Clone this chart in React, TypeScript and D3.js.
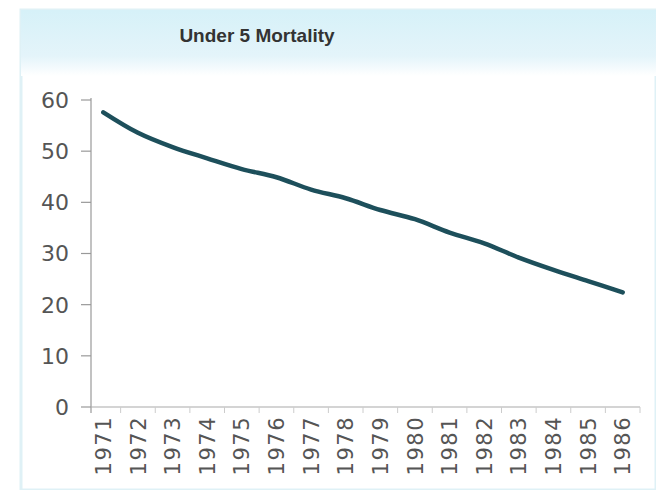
import React from "react";
import * as d3 from "d3";

const years = ["1971","1972","1973","1974","1975","1976","1977","1978","1979","1980","1981","1982","1983","1984","1985","1986"];
const mortality = [57.6, 53.6, 50.8, 48.6, 46.5, 44.9, 42.5, 40.8, 38.5, 36.7, 34.1, 32.0, 29.2, 26.8, 24.6, 22.4];
const yTicks = [0, 10, 20, 30, 40, 50, 60];
const title = "Under 5 Mortality";

const W = 656;
const H = 490;

export default function App() {
  const x = d3.scaleBand<string>().domain(years).range([86, 640]);
  const y = d3.scaleLinear().domain([0, 60]).range([407, 100]);
  const axisX = 91;
  const xc = (d: string) => (x(d) as number) + x.bandwidth() / 2;
  const line = d3
    .line<number>()
    .x((_, i) => xc(years[i]))
    .y((v) => y(v))
    .curve(d3.curveCatmullRom.alpha(0.5));
  const boundaries = years.map((d) => x(d) as number).concat([640]).filter((b) => b > axisX + 2);

  return (
    <svg width={W} height={H} style={{ position: "absolute", left: 0, top: 0, background: "#fff" }}>
      <defs>
        <linearGradient id="tb" x1="0" y1="0" x2="0" y2="1">
          <stop offset="0" stopColor="#d6f1f8" />
          <stop offset="0.7" stopColor="#e4f4fa" />
          <stop offset="1" stopColor="#ffffff" />
        </linearGradient>
      </defs>
      <rect x={21} y={10} width={W - 21} height={H - 10} fill="#fff" stroke="#dff1f6" strokeWidth={3} />
      <rect x={21} y={10} width={W - 21} height={66} fill="url(#tb)" />
      <text
        x={257}
        y={42}
        textAnchor="middle"
        fontFamily="Liberation Sans, Arial, sans-serif"
        fontWeight="bold"
        fontSize={19}
        fill="#333"
      >
        {title}
      </text>

      {/* y axis */}
      <line x1={axisX} x2={axisX} y1={y(60) - 2} y2={413} stroke="#999" strokeWidth={1.2} />
      {yTicks.map((t) => (
        <g key={t}>
          <line x1={axisX - 10} x2={axisX} y1={y(t)} y2={y(t)} stroke="#999" strokeWidth={1.2} />
          <text
            x={69}
            y={y(t)}
            dy="0.36em"
            textAnchor="end"
            fontFamily="DejaVu Sans, sans-serif"
            fontSize={22}
            fill="#555"
          >
            {t}
          </text>
        </g>
      ))}

      {/* x axis */}
      <line x1={axisX} x2={640} y1={y(0)} y2={y(0)} stroke="#aaa" strokeWidth={1.2} />
      {boundaries.map((b, i) => (
        <line key={i} x1={b} x2={b} y1={y(0)} y2={y(0) + 6} stroke="#ccc" strokeWidth={1} />
      ))}
      {years.map((d) => (
        <text
          key={d}
          transform={`translate(${xc(d)},${416}) rotate(-90)`}
          dy="0.36em"
          textAnchor="end"
          fontFamily="DejaVu Sans, sans-serif"
          fontSize={21}
          letterSpacing={1.5}
          fill="#555"
        >
          {d}
        </text>
      ))}

      <path d={line(mortality) || ""} fill="none" stroke="#1d4f5b" strokeWidth={4.5} strokeLinecap="round" />
    </svg>
  );
}
